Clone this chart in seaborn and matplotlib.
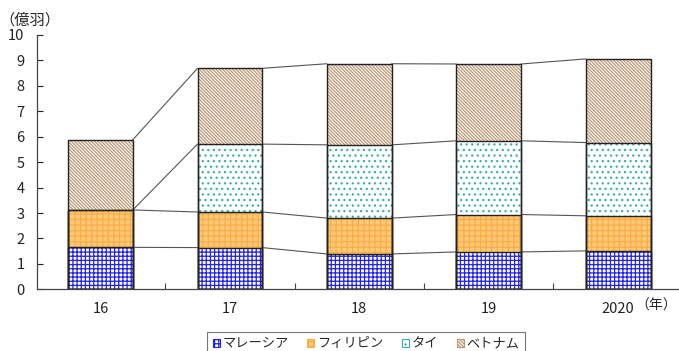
import matplotlib
matplotlib.use("Agg")
import matplotlib.pyplot as plt
import matplotlib.patches as mpatches
import pandas as pd
import seaborn as sns

# Imports by source country (100 million birds)
years = ["16", "17", "18", "19", "2020"]
malaysia = [1.65, 1.64, 1.39, 1.47, 1.51]
philippines = [1.47, 1.40, 1.41, 1.47, 1.38]
thailand = [0.00, 2.67, 2.88, 2.90, 2.88]
vietnam = [2.76, 2.98, 3.19, 3.02, 3.29]
series_names = ["マレーシア", "フィリピン", "タイ", "ベトナム"]
y_ticks = list(range(0, 11))

sns.set_style("ticks")
plt.rcParams["font.family"] = ["Noto Sans CJK JP", "DejaVu Sans"]
plt.rcParams["hatch.linewidth"] = 0.9

df = pd.DataFrame({"year": years, "マレーシア": malaysia, "フィリピン": philippines,
                   "タイ": thailand, "ベトナム": vietnam})
cum = df[series_names].cumsum(axis=1)

styles = {
    "マレーシア": dict(face="white", hatch="++++", hc="#2222E8"),
    "フィリピン": dict(face="#FFC878", hatch="+++", hc="#F9AE45"),
    "タイ": dict(face="white", hatch="...", hc="#3BB0A8"),
    "ベトナム": dict(face="white", hatch="\\" * 10, hc="#BA9672"),
}

fig = plt.figure(figsize=(6.79, 3.51), dpi=100)
ax = fig.add_axes([37 / 679, 1 - 289.3 / 351, 1 - 37 / 679, (289.3 - 35) / 351])

# stacked bars: draw cumulative heights from the top layer down
for name in reversed(series_names):
    st = styles[name]
    n0 = len(ax.patches)
    sns.barplot(x=df["year"], y=cum[name], order=years, ax=ax, width=0.5,
                color=st["face"], saturation=1, errorbar=None, linewidth=0)
    for p in ax.patches[n0:]:
        p.set_hatch(st["hatch"])
        p.set_edgecolor(st["hc"])
        p.set_linewidth(0)
        p.set_zorder(2)
    n0 = len(ax.patches)
    sns.barplot(x=df["year"], y=cum[name], order=years, ax=ax, width=0.5,
                fill=False, color="#222222", errorbar=None, linewidth=1.0)
    for p in ax.patches[n0:]:
        p.set_zorder(3)

# connector lines between segment boundaries of neighbouring bars
for name in series_names:
    vals = cum[name].tolist()
    for i in range(len(years) - 1):
        ax.plot([i + 0.25, i + 0.75], [vals[i], vals[i + 1]],
                color="#555555", lw=0.8, zorder=1)

ax.set_xlim(-0.49, 4.47)
ax.set_ylim(0, 10)
ax.set_yticks(y_ticks)
ax.set_xlabel("")
ax.set_ylabel("")
ax.tick_params(axis="y", direction="in", length=4, width=0.8, pad=9,
               labelsize=10.5, colors="#222222")
ax.tick_params(axis="x", which="major", length=0, pad=9, labelsize=10.5,
               colors="#222222")
ax.set_xticks([0.5, 1.5, 2.5, 3.5], minor=True)
ax.tick_params(axis="x", which="minor", direction="in", length=4, width=0.8,
               color="#444444")
sns.despine(ax=ax)
for s in ("left", "bottom"):
    ax.spines[s].set_color("#444444")
    ax.spines[s].set_linewidth(0.9)

fig.text(30 / 679, 1 - 20 / 351, "（億羽）", ha="center", va="center", fontsize=11)
fig.text(677 / 679, 1 - 306 / 351, "（年）", ha="right", va="center", fontsize=10)

handles = [mpatches.Patch(facecolor=styles[n]["face"], edgecolor=styles[n]["hc"],
                          hatch=styles[n]["hatch"], linewidth=0.8, label=n)
           for n in series_names]
leg = fig.legend(handles=handles, loc="upper center",
                 bbox_to_anchor=(366 / 679, 1 - 332 / 351), ncol=4,
                 frameon=True, fancybox=False, edgecolor="#555555",
                 fontsize=9.5, handlelength=0.55, handleheight=0.55,
                 handletextpad=0.2, columnspacing=1.4, borderpad=0.4,
                 borderaxespad=0)
leg.get_frame().set_linewidth(0.8)

fig.savefig("out.png", dpi=100)
